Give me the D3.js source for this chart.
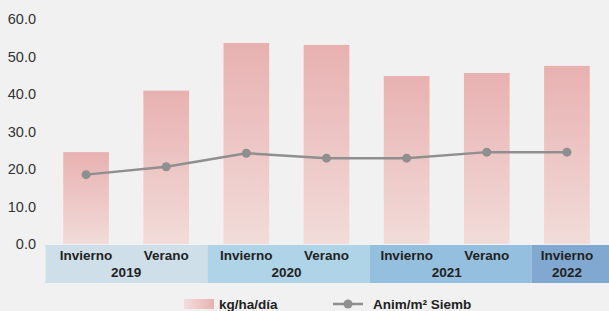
<!DOCTYPE html>
<html><head><meta charset="utf-8">
<script src="https://cdn.jsdelivr.net/npm/d3@7"></script>
<style>
html,body{margin:0;padding:0;background:#f1f1f1;}
svg{display:block;font-family:"Liberation Sans",Arial,Helvetica,sans-serif;}
</style></head>
<body>
<script>
const seasons = ["Invierno","Verano","Invierno","Verano","Invierno","Verano","Invierno"];
const years = [
  {label:"2019", start:0, end:2},
  {label:"2020", start:2, end:4},
  {label:"2021", start:4, end:6},
  {label:"2022", start:6, end:7}
];
const yearColors = ["#cedfe9","#afd4e8","#95bfdf","#81a8d0"];
const kgHaDia = [24.5, 40.9, 53.6, 53.1, 44.8, 45.6, 47.5];
const animM2 = [18.5, 20.6, 24.2, 22.9, 22.9, 24.5, 24.5];
const yTicks = [0,10,20,30,40,50,60];
const legendLabels = ["kg/ha/día","Anim/m² Siemb"];

const W = 609, H = 311;
const svg = d3.select("body").append("svg").attr("width",W).attr("height",H);
const defs = svg.append("defs");
const g1 = defs.append("linearGradient").attr("id","barGrad").attr("x1",0).attr("y1",0).attr("x2",0).attr("y2",1);
g1.append("stop").attr("offset","0%").attr("stop-color","#e8b1b1");
g1.append("stop").attr("offset","100%").attr("stop-color","#f1dcd9");
const g2 = defs.append("linearGradient").attr("id","legGrad").attr("x1",0).attr("y1",0).attr("x2",1).attr("y2",0);
g2.append("stop").attr("offset","0%").attr("stop-color","#f3dedb");
g2.append("stop").attr("offset","100%").attr("stop-color","#e8b1b1");

const x = d3.scaleBand().domain(d3.range(seasons.length)).range([46, 607]).paddingInner(0.43).paddingOuter(0.215);
const bandPos = d3.scaleLinear().domain([0, seasons.length]).range([45.5, 612.5]);
const y = d3.scaleLinear().domain([0,60]).range([244, 19]);

// y tick labels
svg.append("g").selectAll("text").data(yTicks).join("text")
  .attr("x",36).attr("y",d=>y(d)).attr("dy","0.35em")
  .attr("text-anchor","end").attr("font-size",14.5).attr("fill","#333")
  .text(d=>d.toFixed(1));

// bars
svg.append("g").selectAll("rect").data(kgHaDia).join("rect")
  .attr("x",(d,i)=>x(i)).attr("width",x.bandwidth())
  .attr("y",d=>y(d)).attr("height",d=>y(0)-y(d))
  .attr("fill","url(#barGrad)");

// category bands
svg.append("g").selectAll("rect").data(years).join("rect")
  .attr("x",d=>bandPos(d.start))
  .attr("width",(d,i)=> i===years.length-1 ? W - bandPos(d.start) : bandPos(d.end)-bandPos(d.start))
  .attr("y",245).attr("height",38)
  .attr("fill",(d,i)=>yearColors[i]);

svg.append("g").selectAll("text").data(seasons).join("text")
  .attr("x",(d,i)=>x(i)+x.bandwidth()/2).attr("y",260)
  .attr("text-anchor","middle").attr("font-size",13.5).attr("font-weight","bold").attr("fill","#222")
  .text(d=>d);
svg.append("g").selectAll("text").data(years).join("text")
  .attr("x",d=>(x(d.start)+x(d.end-1)+x.bandwidth())/2).attr("y",277)
  .attr("text-anchor","middle").attr("font-size",13.5).attr("font-weight","bold").attr("fill","#222")
  .text(d=>d.label);

// line
const line = d3.line().x((d,i)=>x(i)+x.bandwidth()/2).y(d=>y(d));
svg.append("path").datum(animM2).attr("d",line)
  .attr("fill","none").attr("stroke","#8f8f8f").attr("stroke-width",2.5);
svg.append("g").selectAll("circle").data(animM2).join("circle")
  .attr("cx",(d,i)=>x(i)+x.bandwidth()/2).attr("cy",d=>y(d)).attr("r",4.5)
  .attr("fill","#8f8f8f");

// legend
const lg = svg.append("g");
lg.append("rect").attr("x",184).attr("y",299).attr("width",30).attr("height",10).attr("fill","url(#legGrad)");
lg.append("text").attr("x",219).attr("y",304).attr("dy","0.35em").attr("font-size",13.5).attr("font-weight","bold").attr("fill","#222").text(legendLabels[0]);
lg.append("line").attr("x1",333).attr("x2",363).attr("y1",304).attr("y2",304).attr("stroke","#8f8f8f").attr("stroke-width",2.5);
lg.append("circle").attr("cx",348).attr("cy",304).attr("r",4.5).attr("fill","#8f8f8f");
lg.append("text").attr("x",373).attr("y",304).attr("dy","0.35em").attr("font-size",13.5).attr("font-weight","bold").attr("fill","#222").text(legendLabels[1]);
</script>
</body></html>
